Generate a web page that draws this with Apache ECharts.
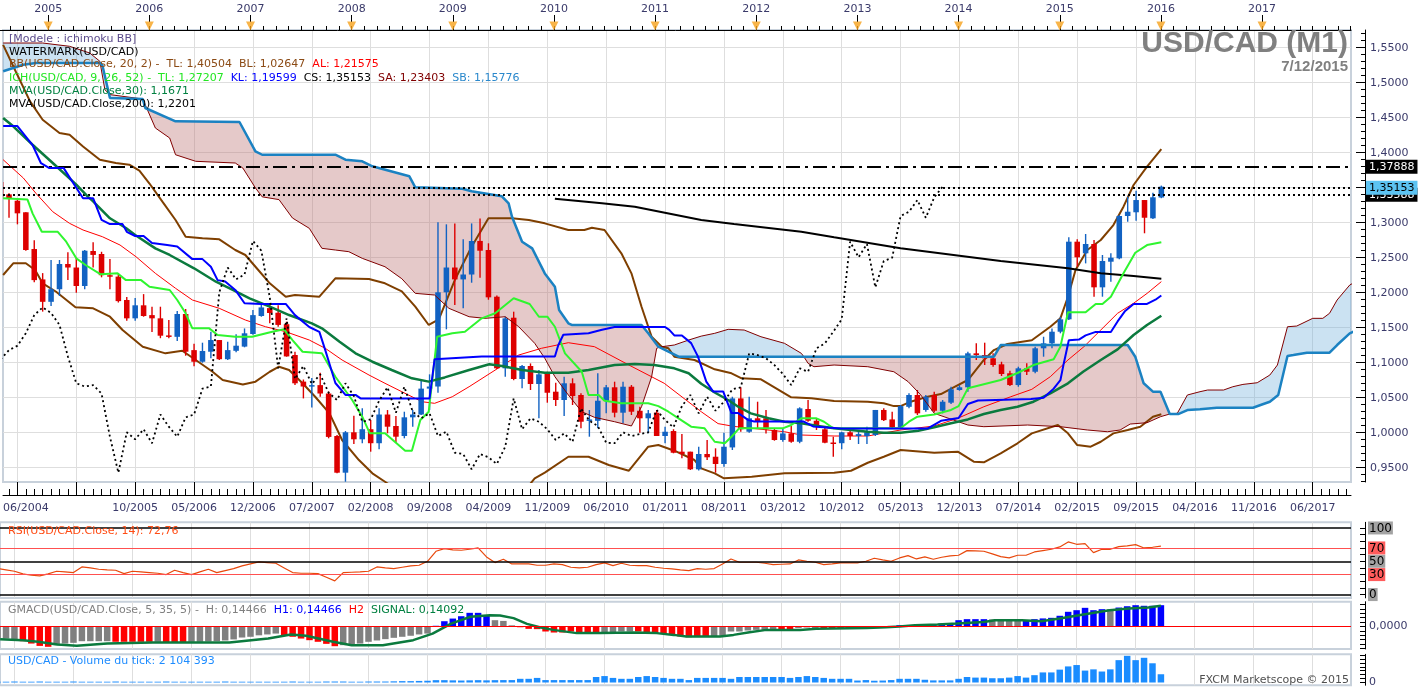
<!DOCTYPE html>
<html><head><meta charset="utf-8">
<script src="https://cdn.jsdelivr.net/npm/echarts@6/dist/echarts.min.js"></script>
<style>html,body{margin:0;padding:0;background:#fff}#c{width:1423px;height:688px}</style>
</head><body><div id="c"></div>
<script>
// ---------- DATA (month index 0 = 06/2004) ----------
const firstMonth = [2004, 6];
const yearLabels = ['2005','2006','2007','2008','2009','2010','2011','2012','2013','2014','2015','2016','2017'];
const yearMonthIdx = [6,18,30,42,54,66,78,90,102,114,126,138,150];
const priceTicks = [0.95,1.00,1.05,1.10,1.15,1.20,1.25,1.30,1.35,1.40,1.45,1.50,1.55];
const rsiTicks = [0,30,50,70,100];
const levelValues = [1.37888, 1.35153, 1.33588];

const candleOpen = [1.358,1.3405,1.3314,1.3149,1.2624,1.219,1.187,1.205,1.241,1.236,
1.2096,1.2596,1.2553,1.225,1.223,1.1896,1.1634,1.182,1.168,1.1634,
1.139,1.137,1.1696,1.118,1.1014,1.1157,1.1324,1.105,1.117,1.123,
1.141,1.1667,1.178,1.1714,1.155,1.111,1.073,1.066,1.068,1.056,
0.9953,0.9429,1.0006,0.9906,1.005,0.985,1.026,1.0096,0.9953,1.022,
1.026,1.063,1.066,1.2006,1.236,1.219,1.226,1.274,1.261,1.1943,
1.092,1.1643,1.0767,1.0953,1.0696,1.0849,1.0586,1.0467,1.0706,1.0539,
1.017,1.017,1.0457,1.0649,1.0286,1.0657,1.0314,1.0206,1.0286,0.9953,
1.0024,0.9729,0.9729,0.9477,0.9696,0.9657,0.9553,0.979,1.049,1.0014,
1.0206,1.0206,1.0039,0.9896,0.999,0.9871,1.0339,1.0171,1.0049,0.986,
0.985,1.0006,0.9953,0.9953,0.9967,1.0325,1.019,1.0077,1.037,1.0539,
1.0325,1.0539,1.0314,1.0429,1.061,1.0649,1.1134,1.111,1.1063,1.0977,
1.0849,1.0681,1.092,1.0871,1.1206,1.1277,1.1443,1.162,1.2729,1.2563,
1.2696,1.2077,1.2443,1.2491,1.3096,1.3149,1.3324,1.3063,1.336];
const candleClose = [1.336,1.335,1.3134,1.261,1.218,1.187,1.205,1.241,1.236,1.2096,
1.26,1.254,1.225,1.223,1.188,1.1634,1.182,1.1667,1.1634,1.1386,
1.137,1.1696,1.1157,1.1014,1.1167,1.1324,1.105,1.118,1.1243,1.142,
1.168,1.179,1.171,1.154,1.109,1.0706,1.066,1.068,1.056,0.994,
0.9429,1.0006,0.9906,1.005,0.985,1.026,1.0086,0.9943,1.022,1.026,
1.063,1.066,1.2006,1.236,1.219,1.226,1.2739,1.26,1.1934,1.092,
1.1634,1.0767,1.0953,1.0696,1.0834,1.0571,1.0467,1.0706,1.0524,1.0157,
1.019,1.0457,1.0649,1.0286,1.0657,1.03,1.0206,1.0277,0.9953,1.0014,
0.9714,0.9696,0.9477,0.9696,0.9649,0.9553,0.98,1.049,1.0049,1.0206,
1.0157,1.0049,0.9896,0.999,0.9871,1.0348,1.0171,1.0096,0.9857,0.985,
1.0006,0.9953,0.998,1.0006,1.0325,1.018,1.0077,1.038,1.0539,1.0277,
1.0514,1.0314,1.0443,1.062,1.0649,1.1134,1.111,1.1063,1.0967,1.0839,
1.0681,1.092,1.0871,1.1206,1.1277,1.1443,1.162,1.2729,1.2506,1.2696,
1.2077,1.2453,1.25,1.3096,1.3157,1.3324,1.3071,1.3363,1.3515];
const candleLow = [1.328,1.307,1.2977,1.26,1.215,1.173,1.181,1.1953,1.218,1.20,
1.205,1.236,1.222,1.205,1.186,1.16,1.16,1.1657,1.144,1.135,
1.135,1.131,1.11,1.095,1.10,1.1063,1.104,1.104,1.115,1.122,
1.14,1.1657,1.1563,1.1514,1.1086,1.068,1.049,1.036,1.0514,0.992,
0.942,0.93,0.9839,0.985,0.9729,0.9763,0.9991,0.9857,0.992,1.0086,
1.0253,1.0324,1.057,1.1477,1.1824,1.1777,1.2143,1.2214,1.19,1.091,
1.08,1.075,1.0634,1.061,1.0206,1.0429,1.038,1.0239,1.0396,1.0063,
0.9943,1.0063,1.0277,1.022,1.0134,1.0253,1.0,0.9991,0.9953,0.985,
0.9706,0.9634,0.9467,0.946,0.961,0.9429,0.9514,0.9753,1.0014,1.0,
1.0063,0.999,0.9886,0.9871,0.9857,0.985,1.0157,1.0039,0.985,0.9657,
0.9763,0.9896,0.9839,0.9839,0.9953,1.0167,1.0063,1.0063,1.0348,1.0253,
1.03,1.0291,1.0277,1.041,1.06,1.0586,1.1039,1.0967,1.0943,1.081,
1.0667,1.0657,1.0824,1.0849,1.1086,1.1206,1.142,1.161,1.2371,1.2419,
1.1943,1.1943,1.2157,1.2477,1.3014,1.3029,1.2849,1.3053,1.335];
const candleHigh = [1.366,1.342,1.334,1.3149,1.275,1.228,1.2467,1.2467,1.2577,1.25,
1.261,1.272,1.2585,1.248,1.227,1.194,1.1924,1.198,1.18,1.18,
1.161,1.174,1.1767,1.127,1.1286,1.1443,1.1324,1.13,1.1406,1.149,
1.1753,1.184,1.1824,1.182,1.1586,1.1157,1.076,1.078,1.0857,1.0586,
0.9967,1.0024,1.0243,1.0348,1.0182,1.0348,1.0324,1.0239,1.03,1.0324,
1.0753,1.0834,1.3006,1.2977,1.299,1.2763,1.299,1.306,1.2706,1.196,
1.1657,1.1729,1.0967,1.099,1.0896,1.0871,1.0714,1.08,1.0777,1.0563,
1.0324,1.0849,1.0681,1.0729,1.0729,1.0681,1.0371,1.0324,1.0324,1.0086,
1.005,0.998,0.9729,0.98,0.9896,0.9777,1.0,1.0514,1.0649,1.0514,
1.0443,1.0324,1.0063,1.0063,1.0096,1.0363,1.0467,1.0206,1.0086,0.9943,
1.0014,1.0039,1.0014,1.0086,1.0325,1.0348,1.03,1.0396,1.0563,1.061,
1.0539,1.0586,1.0467,1.0657,1.0681,1.1157,1.1277,1.1286,1.1134,1.1014,
1.0886,1.0943,1.0991,1.1229,1.1371,1.149,1.1657,1.2791,1.2763,1.2839,
1.2753,1.2539,1.2563,1.311,1.3371,1.3457,1.3324,1.3429,1.353];

// Chikou span, index = month
const chikou = [1.105,1.118,1.1243,1.142,1.168,1.179,1.171,1.154,1.109,1.0706,
1.066,1.068,1.056,0.994,0.9429,1.0006,0.9906,1.005,0.985,1.026,
1.0086,0.9943,1.022,1.026,1.063,1.066,1.2006,1.236,1.219,1.226,
1.2739,1.26,1.1934,1.092,1.1634,1.0767,1.0953,1.0696,1.0834,1.0571,
1.0467,1.0706,1.0524,1.0157,1.019,1.0457,1.0649,1.0286,1.0657,1.03,
1.0206,1.0277,0.9953,1.0014,0.9714,0.9696,0.9477,0.9696,0.9649,0.9553,
0.98,1.049,1.0049,1.0206,1.0157,1.0049,0.9896,0.999,0.9871,1.0348,
1.0171,1.0096,0.9857,0.985,1.0006,0.9953,0.998,1.0006,1.0325,1.018,
1.0077,1.038,1.0539,1.0277,1.0514,1.0314,1.0443,1.062,1.0649,1.1134,
1.111,1.1063,1.0967,1.0839,1.0681,1.092,1.0871,1.1206,1.1277,1.1443,
1.162,1.2729,1.2506,1.2696,1.2077,1.2453,1.25,1.3096,1.3157,1.3324,
1.3071,1.3363,1.3515];

// Indicator lines: [month index, value]
const bbUpper = [[0.3,1.554],[1.8,1.516],[3.5,1.4734],[5,1.4471],[7,1.4281],[8.2,1.4257],[9.8,1.409],[11.8,1.39],[13.7,1.3853],[15.3,1.3829],[16.5,1.3743],[17.7,1.356],[19.3,1.329],[20.8,1.3039],[22,1.28],[24,1.2777],[26,1.2763],[27.9,1.261],[29.1,1.2539],[30.3,1.2371],[32,1.2134],[33.9,1.1943],[35,1.1967],[37.9,1.1943],[39.8,1.2206],[43.8,1.2196],[45.7,1.2134],[47.7,1.202],[49.3,1.18],[50.9,1.1539],[52.1,1.162],[54,1.2181],[56,1.2657],[58,1.3063],[60.8,1.3063],[62.8,1.3039],[64.7,1.2991],[67.5,1.2896],[69.4,1.2896],[70.3,1.2929],[71.8,1.2896],[73.8,1.2563],[75,1.2277],[76.2,1.18],[77.4,1.1371],[78.6,1.1229],[79.4,1.1206],[80.1,1.1086],[82.5,1.1039],[84.9,1.0906],[86.9,1.0849],[88.1,1.0777],[90.4,1.0763],[92,1.0649],[94,1.0506],[96.4,1.0491],[99.1,1.0453],[103.1,1.0443],[105,1.042],[106.2,1.038],[107,1.038],[108.2,1.0443],[110.2,1.0514],[111.8,1.0553],[113.3,1.0649],[115,1.0753],[116.9,1.1039],[118.1,1.1181],[119.7,1.1267],[122.6,1.132],[124.8,1.1514],[126,1.1634],[126.9,1.1943],[127.8,1.2324],[129.2,1.261],[130.8,1.2753],[132.3,1.2967],[133.5,1.3229],[134.7,1.3539],[136.3,1.38],[138,1.405]];
const bbLower = [[0.3,1.2253],[1.5,1.242],[3,1.242],[4.1,1.2324],[5,1.2134],[6.6,1.2014],[8.9,1.1791],[11,1.1777],[13,1.1657],[14.5,1.1467],[16.9,1.1229],[19.6,1.1134],[21.6,1.1171],[23.2,1.1039],[25.2,1.0871],[26.4,1.0753],[28.8,1.069],[30.3,1.0729],[32,1.0871],[33.1,1.0943],[34.3,1.0896],[35.9,1.0706],[37.4,1.0514],[39.1,1.0277],[40.6,0.9896],[42.6,0.961],[44.2,0.942],[45.7,0.93],[47.5,0.915],[50,0.895],[53,0.86],[56,0.84],[59,0.86],[61.5,0.905],[63.5,0.9349],[64.7,0.9429],[67.5,0.9657],[69.9,0.9657],[72.3,0.9539],[74.7,0.9457],[77,0.98],[78.2,0.9824],[80.1,0.9743],[82.5,0.961],[83.3,0.9491],[84.9,0.942],[86,0.9349],[89.3,0.9371],[93.2,0.942],[99.1,0.9429],[101.1,0.9457],[103.1,0.9571],[105,0.9657],[107,0.9753],[111,0.9714],[113.8,0.9729],[115.7,0.9586],[116.9,0.9577],[118.9,0.9706],[120.9,0.9849],[122.6,0.999],[125.7,1.011],[126.9,0.9991],[128,0.9824],[129.6,0.98],[130.8,0.9871],[132.3,0.9991],[134,1.0039],[135.5,1.0086],[137,1.0229],[138,1.0265]];
const bbMid = [[0.3,1.39],[2.7,1.3639],[4.2,1.342],[6.2,1.3157],[8.2,1.2991],[9.8,1.2896],[12.1,1.28],[14.2,1.2681],[16.1,1.2514],[18.4,1.2277],[20.8,1.2063],[22.8,1.1896],[26,1.1777],[29.1,1.161],[31.5,1.1514],[33.9,1.1443],[36.7,1.1324],[38.6,1.1206],[40.6,1.1039],[43.8,1.0824],[45.7,1.0706],[47.7,1.0586],[50.1,1.0443],[51.6,1.042],[53.7,1.0514],[55.7,1.0657],[61.6,1.111],[64.3,1.1206],[67.5,1.1286],[70.6,1.1229],[74.7,1.0967],[78.9,1.0706],[83.3,1.03],[85.3,1.013],[87.2,1.009],[93.2,1.0014],[95.2,0.9967],[99.1,0.9953],[103.1,0.9953],[107,1.0039],[111,1.0096],[113.8,1.0206],[116.9,1.0371],[120.1,1.0514],[122.6,1.062],[124.8,1.08],[126.9,1.1039],[128.8,1.1229],[130.8,1.1467],[132.8,1.1706],[134.7,1.1849],[136.3,1.199],[138,1.2158]];
const tenkan = [[0.3,1.335],[3.2,1.333],[3.8,1.3134],[4.9,1.287],[6.8,1.287],[7.8,1.2729],[9,1.2491],[10.1,1.2396],[11.9,1.2263],[13.9,1.2277],[14.9,1.218],[16.7,1.218],[17.7,1.2086],[20.1,1.2039],[21,1.1896],[22,1.1706],[22.8,1.1491],[24.8,1.1491],[25.8,1.1396],[27.9,1.1371],[29.9,1.1371],[32.3,1.1443],[33.7,1.1477],[34.7,1.1324],[35.9,1.1157],[38.2,1.1134],[39.8,1.08],[41.8,1.0467],[43,1.0229],[43.9,0.9991],[45.7,0.9991],[48.1,0.9743],[48.9,0.9743],[49.9,1.0181],[50.9,1.03],[51.9,1.1371],[53.7,1.142],[55.2,1.1443],[57.2,1.1634],[58.8,1.1706],[61,1.192],[62.9,1.1839],[64,1.1657],[65,1.1657],[65.9,1.1514],[67.1,1.1134],[69.1,1.0871],[69.9,1.0539],[71.1,1.0539],[71.8,1.0457],[73.8,1.042],[77,1.042],[78.2,1.038],[79.4,1.03],[80.6,1.0206],[82.1,1.0086],[83.7,1.0063],[84.9,0.9871],[86.1,0.9849],[86.9,0.9943],[87.8,1.0063],[93,1.0063],[94,1.011],[95.2,1.0206],[97,1.0206],[97.9,1.0157],[99,1.0063],[107,1.0063],[108,1.0157],[109,1.0229],[111,1.026],[113,1.0325],[113.9,1.038],[115,1.0634],[118.9,1.0753],[120.9,1.0853],[122.8,1.0967],[125.2,1.1049],[126,1.1229],[126.9,1.172],[129,1.172],[130.2,1.184],[131,1.184],[132,1.1943],[133.5,1.2277],[134.9,1.2571],[136.3,1.2681],[138,1.2721]];
const kijun = [[0.3,1.438],[2,1.438],[3.8,1.411],[4.8,1.385],[5.8,1.378],[7.5,1.378],[9.8,1.335],[11,1.335],[12,1.304],[13,1.298],[14.5,1.298],[15,1.287],[16,1.281],[17,1.281],[18,1.271],[19.8,1.268],[21,1.266],[22.8,1.248],[24,1.248],[25,1.237],[25.8,1.218],[26.7,1.216],[27.9,1.204],[29,1.185],[31,1.184],[33.9,1.184],[35,1.168],[36.7,1.151],[37.9,1.144],[38.6,1.118],[39.8,1.071],[41,1.054],[42.2,1.054],[42.8,1.049],[51,1.049],[51.6,1.105],[57.2,1.109],[65.9,1.109],[66.3,1.125],[66.9,1.14],[69.9,1.142],[71.5,1.147],[73,1.151],[79,1.151],[79.5,1.147],[80.1,1.139],[81,1.139],[82.1,1.128],[82.9,1.109],[83.9,1.073],[84.7,1.059],[85.9,1.059],[86.9,1.028],[87.7,1.028],[88.9,1.018],[89.6,1.016],[95.5,1.016],[96.6,1.009],[99.9,1.006],[110.2,1.006],[111.8,1.017],[113.9,1.021],[115,1.041],[116.2,1.046],[122.5,1.048],[124,1.05],[125.2,1.063],[126,1.075],[126.4,1.099],[127,1.132],[128.2,1.133],[129,1.139],[130.2,1.144],[132,1.144],[132.8,1.159],[133.7,1.174],[134.7,1.184],[136.3,1.184],[137.3,1.19],[138,1.196]];
const senkouA = [[0.3,1.5567],[5,1.5567],[8.2,1.552],[10.6,1.5424],[11.8,1.5306],[12.4,1.49],[13,1.483],[16.9,1.4767],[18.4,1.4353],[20.1,1.421],[20.8,1.3971],[23.2,1.3877],[27.9,1.3853],[28.8,1.3781],[30.3,1.3496],[31.1,1.337],[33.1,1.333],[34.7,1.3067],[36.7,1.292],[38.2,1.2634],[39.8,1.261],[41.4,1.2586],[43,1.2491],[45.7,1.2371],[47.7,1.22],[49.3,1.1991],[51.6,1.1967],[53.3,1.1777],[55.7,1.1657],[57.6,1.1634],[60,1.1657],[61.6,1.1514],[63.5,1.1277],[64.7,1.1063],[65.9,1.08],[67.5,1.0539],[69.1,1.03],[70.6,1.022],[73,1.0157],[75,1.0096],[76.2,1.0371],[77.4,1.08],[78,1.1206],[78.4,1.1225],[80.1,1.1253],[81.8,1.1324],[83.3,1.138],[84.9,1.142],[86.5,1.1477],[88.4,1.1467],[90.4,1.1371],[93.2,1.1277],[95.2,1.1134],[95.5,1.1086],[96,1.0991],[96.7,1.0943],[99.1,1.0967],[103.1,1.0943],[106.2,1.0871],[107.9,1.0729],[109.4,1.0539],[111,1.0277],[113.3,1.0181],[115,1.011],[116.9,1.0086],[122.1,1.011],[126,1.0086],[129.2,1.0039],[131.6,1.0014],[133.1,1.0039],[134.3,1.0124],[136.3,1.0143],[137.9,1.0229],[139,1.0267],[139.9,1.0277],[141.1,1.0539],[142.6,1.0586],[143.5,1.061],[145.4,1.061],[146.5,1.0657],[147.7,1.069],[149.4,1.0714],[150.9,1.0824],[151.8,1.0967],[153,1.1514],[154.1,1.1524],[156,1.1634],[157.2,1.1634],[158,1.1706],[158.9,1.1896],[160.4,1.211],[161,1.215]];
const senkouB = [[0.3,1.5163],[2.7,1.5257],[4.2,1.5281],[11.8,1.5281],[12.1,1.525],[13,1.4781],[16.9,1.4767],[17.2,1.4639],[20.8,1.4449],[28.4,1.4439],[30.3,1.402],[31.1,1.3971],[39.8,1.3971],[41,1.39],[43,1.3877],[44.2,1.3806],[48.6,1.3663],[49.3,1.3506],[54.9,1.3486],[56,1.3449],[59.6,1.3377],[60.4,1.3277],[60.8,1.3086],[62,1.2729],[63.2,1.2634],[64.7,1.2276],[65.9,1.2086],[66.4,1.1753],[67.5,1.1563],[67.9,1.1539],[76.2,1.1539],[77,1.142],[78.2,1.1229],[78.4,1.1215],[80.6,1.1086],[95.5,1.1086],[118.1,1.1086],[118.9,1.1253],[134,1.1253],[134.9,1.1086],[135.9,1.0706],[137,1.0586],[137.9,1.0586],[139,1.0267],[140,1.0267],[141.1,1.0324],[142.6,1.0334],[144.6,1.0357],[148.9,1.0357],[149.8,1.0396],[150.9,1.0443],[151.9,1.0539],[153,1.1096],[153.7,1.111],[155.3,1.1143],[158,1.1143],[158.9,1.1253],[160.4,1.142],[161,1.145]];
// cloud segments between crossings: [from, to, senkouA above?]
const cloudSegments = [[0.3,16.9,1],[16.9,78.4,0],[78.4,95.5,1],[95.5,139,0],[139,161,1]];
const mva30 = [[0.3,1.4496],[1.5,1.4377],[3.8,1.4114],[6.2,1.3853],[9,1.3543],[10.4,1.337],[11,1.3306],[13,1.3063],[14.9,1.2924],[16,1.2824],[18.4,1.2634],[20.1,1.2539],[23,1.2349],[25.6,1.2157],[27.6,1.2039],[29.6,1.192],[32,1.18],[34.3,1.1681],[37,1.1563],[38.2,1.1491],[40.3,1.13],[42.2,1.1134],[44.2,1.1014],[46.5,1.0896],[48.9,1.0777],[50.9,1.073],[52.8,1.079],[55.7,1.0896],[58.1,1.0977],[59.6,1.0953],[62,1.0896],[64.7,1.0857],[67.5,1.0857],[69.9,1.0896],[73,1.0967],[75.4,1.0981],[77.7,1.0967],[80.1,1.092],[81.8,1.0849],[83.3,1.07],[84.9,1.0575],[86.5,1.0467],[87.7,1.0371],[89.2,1.0277],[91.3,1.0206],[93.2,1.0157],[95.2,1.0134],[97.2,1.0096],[99.1,1.0063],[101.1,1.0039],[103.1,1.0014],[105,1.0],[107,1.0],[109.1,1.0029],[111,1.0077],[113,1.0134],[115,1.019],[116.9,1.0267],[118.9,1.0324],[120.9,1.0371],[122.8,1.0443],[124.8,1.0563],[126.9,1.0706],[128.7,1.0871],[130.8,1.1039],[132.8,1.1191],[134.7,1.1396],[136.3,1.1539],[138,1.1671]];
const mva200 = [[65.9,1.3343],[71.5,1.3277],[75.4,1.3229],[83.3,1.3039],[87.2,1.2981],[95.2,1.2871],[99.1,1.2791],[107,1.2634],[118.9,1.2453],[126.9,1.2349],[130.8,1.2277],[134.7,1.2239],[138,1.2201]];

const rsi = [39,37,35,31,29,28,31,35,34,33,
41.5,40,38,37,36.5,31.5,35,34,33,32,
30,36.5,33,30,34,38,33,36,39,43,
46,49,48,47,40,33,32,32,31.5,26,
20.5,33,33.5,34,35,41.5,40,39,41,43,
44,50,65,69,67,66.5,68,70,56.5,48,
53,46,46,46,44,44,46,45,41,40,
41,45,47.5,43.5,47,44,43.5,43.5,41,39.5,
38.5,37,36,39,38,39,46,53.5,48.5,48.5,
48.5,47,45,45.5,46,52,50,48.5,45,46,
47.5,47.5,47.5,50,54.5,52,50,55,58.5,53.5,
56.5,53,56,58,59,66,65.5,65,61,57,
55,59,59,64,66,68,71.5,79,75.5,76.5,
63,68,68,72,73,75,70,71,72.76];

const macdHist = [-0.08,-0.082,-0.086,-0.1,-0.116,-0.132,-0.138,-0.127,-0.116,-0.111,
-0.1,-0.1,-0.1,-0.1,-0.104,-0.104,-0.104,-0.104,-0.104,-0.104,
-0.109,-0.109,-0.109,-0.104,-0.104,-0.102,-0.1,-0.095,-0.088,-0.075,
-0.07,-0.06,-0.054,-0.048,-0.063,-0.07,-0.082,-0.093,-0.104,-0.118,
-0.134,-0.127,-0.122,-0.116,-0.104,-0.095,-0.086,-0.077,-0.07,-0.063,
-0.054,-0.048,0.005,0.036,0.054,0.07,0.093,0.093,0.077,0.043,
0.038,0.008,-0.005,-0.016,-0.018,-0.034,-0.041,-0.041,-0.034,-0.05,
-0.045,-0.045,-0.041,-0.041,-0.034,-0.034,-0.034,-0.041,-0.045,-0.05,
-0.057,-0.068,-0.073,-0.068,-0.068,-0.068,-0.063,-0.034,-0.034,-0.027,
-0.023,-0.023,-0.018,-0.018,-0.018,-0.011,-0.007,-0.011,-0.01,-0.01,
-0.01,-0.01,-0.007,-0.005,-0.003,0.002,0.004,0.009,0.009,0.009,
0.014,0.014,0.02,0.02,0.043,0.05,0.05,0.05,0.048,0.048,
0.048,0.048,0.043,0.05,0.055,0.059,0.073,0.1,0.111,0.127,
0.111,0.118,0.118,0.129,0.138,0.145,0.141,0.141,0.145];
const macdColorCodes = ['ggg','rrrr','ggggggg','rrrrr','g','rrr','ggggggggggg','rrrrrrr','ggggggggggg','bbbbbbb','ggg','rrrrrrrrrr','gggg','rrrrrrrrr','gggggggg','rr','ggg','rrrr','ggggg','bbbbbbbbbbb','gggg','bbbbbbbbbb','g','bbbbbb'].join('').split('');
const macdSignal = [[0.3,-0.086],[3,-0.093],[4.8,-0.104],[7.1,-0.122],[9.4,-0.131],[13,-0.116],[18.4,-0.109],[27.5,-0.109],[32.1,-0.082],[34.8,-0.054],[36.6,-0.063],[39.8,-0.104],[42,-0.127],[45.7,-0.127],[49.3,-0.093],[51.6,-0.048],[53.8,0.02],[56.1,0.066],[58.4,0.077],[59.6,0.075],[61.2,0.057],[62.8,0.018],[64.3,-0.005],[65.9,-0.023],[68.7,-0.045],[71.5,-0.045],[75.4,-0.041],[78.2,-0.045],[80.2,-0.057],[81.7,-0.068],[85.7,-0.068],[87.3,-0.057],[89.2,-0.039],[91.2,-0.023],[95.2,-0.023],[97.1,-0.016],[103.1,-0.011],[105.4,-0.005],[107,0],[108.8,0.009],[111.5,0.014],[113.8,0.02],[117,0.03],[118.3,0.043],[121.5,0.043],[123.8,0.036],[126,0.054],[128.8,0.082],[131.9,0.111],[134.2,0.122],[136.5,0.129],[138,0.141]];

const volume = [0.2,0.2,0.25,0.2,0.2,0.25,0.2,0.2,0.2,0.25,
0.2,0.2,0.2,0.2,0.25,0.2,0.2,0.2,0.2,0.2,
0.25,0.2,0.2,0.2,0.2,0.2,0.2,0.25,0.2,0.2,
0.2,0.2,0.2,0.2,0.2,0.25,0.2,0.2,0.2,0.25,
0.25,0.25,0.2,0.2,0.25,0.25,0.25,0.3,
0.35,0.35,0.4,0.45,0.6,0.6,0.55,0.5,0.55,0.6,0.55,0.6,
0.62,0.62,0.94,0.94,1.17,0.62,0.62,0.62,0.62,0.62,
0.62,1.4,1.64,1.17,0.94,0.94,1.4,1.64,1.4,1.17,
0.94,0.94,0.62,1.17,1.17,1.17,1.17,0.94,1.4,1.4,
1.4,1.4,1.4,1.4,1.17,1.4,1.64,1.4,1.17,0.94,
0.94,0.94,0.5,0.62,0.45,0.5,0.62,0.94,0.94,0.94,
0.7,0.54,0.54,0.54,0.94,1.4,1.25,1.25,1.09,1.09,
1.25,1.64,1.25,1.87,2.57,2.57,3.28,4.1,4.45,3.04,
3.35,2.8,3.35,5.7,6.8,5.7,6.3,4.9,2.104393];

// ---------- CHART ----------
const FONT = 'DejaVu Sans';
const AX = '#3a3a6a';
const X_MIN = 0.285, X_MAX = 160.55;
const gridMonths = []; for (let k = 2; k < X_MAX; k += 7) gridMonths.push(k);
const labelMonths = [X_MIN].concat(gridMonths.filter(k => k >= 16));
const monthTicks = []; for (let k = 1; k < X_MAX; k++) monthTicks.push(k);
const topTicks = []; for (let k = 1.5; k < X_MAX; k += 1.5) topTicks.push(k);
const priceMinor = []; for (let k = 93; k <= 157; k++) priceMinor.push(k / 100);

function monthLabel(v) {
  const m = firstMonth[1] - 1 + Math.round(v);
  const y = firstMonth[0] + Math.floor(m / 12);
  const mm = m % 12 + 1;
  return (mm < 10 ? '0' : '') + mm + '/' + y;
}
const comma = (v, d) => v.toFixed(d).replace('.', ',');

function xAx(grid, extra) {
  return Object.assign({type: 'value', gridIndex: grid, min: X_MIN, max: X_MAX,
    axisLine: {show: false}, axisTick: {show: false}, axisLabel: {show: false}, splitLine: {show: false}}, extra);
}
const gridSplit = {show: true, lineStyle: {color: '#dedede', width: 1}};
const frame = {show: true, borderColor: '#c8d1db', borderWidth: 2, backgroundColor: '#fff'};

const rs = (c, extra) => Object.assign({color: c, fontFamily: FONT, fontSize: 11, fontWeight: 'normal', lineHeight: 13}, extra || {});
const rich = {pu: rs('#5c4c8c'), bk: rs('#000'), br: rs('#8b4a14'), rd: rs('#ff0000'), gr: rs('#22e622'),
  bl: rs('#0000ff'), dr: rs('#800000'), sb: rs('#2a88cc'), dg: rs('#008040'), gy: rs('#808080'),
  or: rs('#ff4c14'), vb: rs('#1e8cff'), fx: rs('#505050')};
const T = (text, left, top) => ({text, left, top, padding: 0,
  textStyle: {rich, fontFamily: FONT, fontSize: 11, fontWeight: 'normal', lineHeight: 13}});

function line(data, color, width, type, z) {
  return {type: 'line', xAxisIndex: 2, yAxisIndex: 1, data, symbol: 'none', silent: true, z: z || 3,
    lineStyle: {color, width, type: type || 'solid'}, clip: true};
}

const upColor = '#1262c2', downColor = '#dd0000';
const macdColors = {r: '#ff0000', g: '#808080', b: '#0000ff'};

const levelStyles = [
  {type: [14, 5, 3, 5], bg: '#000', fg: '#fff'},
  {type: [2, 3], bg: '#5cc3f2', fg: '#000'},
  {type: [2, 3], bg: '#000', fg: '#fff'}
];
const levelLines = levelValues.map((v, k) => ({
  yAxis: v,
  lineStyle: {color: '#000', width: 2, type: levelStyles[k].type},
  label: {show: true, position: 'end', distance: 15, formatter: comma(v, 5), backgroundColor: levelStyles[k].bg,
    color: levelStyles[k].fg, fontFamily: FONT, fontSize: 11, fontWeight: 'normal', padding: [2, 3, 1, 3]}
}));
// draw the blue label on top
levelLines.push(levelLines.splice(1, 1)[0]);

const option = {
  animation: false,
  backgroundColor: '#fff',
  textStyle: {fontFamily: FONT},
  title: [
    T('{pu|[Modele : ichimoku BB]}', 9, 33),
    T('{bk|WATERMARK(USD/CAD)}', 9, 45.5),
    T('{br|BB(USD/CAD.Close, 20, 2) -  TL: 1,40504  BL: 1,02647  }{rd|AL: 1,21575}', 9, 58),
    T('{gr|ICH(USD/CAD, 9, 26, 52) -  TL: 1,27207  }{bl|KL: 1,19599  }{bk|CS: 1,35153  }{dr|SA: 1,23403  }{sb|SB: 1,15776}', 9, 71.5),
    T('{dg|MVA(USD/CAD.Close,30): 1,1671}', 9, 85),
    T('{bk|MVA(USD/CAD.Close,200): 1,2201}', 9, 98),
    T('{or|RSI(USD/CAD.Close, 14): 72,76}', 8, 524.5),
    T('{gy|GMACD(USD/CAD.Close, 5, 35, 5) -  H: 0,14466  }{bl|H1: 0,14466  }{rd|H2  }{dg|SIGNAL: 0,14092}', 8, 603.5),
    T('{vb|USD/CAD - Volume du tick: 2 104 393}', 8, 655),
    {text: 'FXCM Marketscope © 2015', right: 74, top: 673.5, padding: 0,
      textStyle: {fontFamily: FONT, fontSize: 11, color: '#505050', fontWeight: 'normal', lineHeight: 13}},
    {text: 'USD/CAD (M1)', right: 75, top: 26, padding: 0,
      textStyle: {fontFamily: 'Liberation Sans', fontWeight: 'bold', fontSize: 30, color: '#808080', lineHeight: 36}},
    {text: '7/12/2015', right: 75, top: 58, padding: 0,
      textStyle: {fontFamily: 'Liberation Sans', fontWeight: 'bold', fontSize: 15, color: '#808080', lineHeight: 18}}
  ],
  grid: [
    {left: 0, top: 22, width: 1351, height: 8, show: false},
    Object.assign({left: 0, top: 30, width: 1351, height: 452}, frame),
    Object.assign({left: 0, top: 522.3, width: 1351, height: 75.6}, frame),
    Object.assign({left: 0, top: 601.7, width: 1351, height: 47.3}, frame),
    Object.assign({left: 0, top: 654.3, width: 1351, height: 33.7}, frame)
  ],
  xAxis: [
    xAx(0, {position: 'top', axisLine: {show: true, lineStyle: {color: '#000', width: 1}},
      axisTick: {show: true, customValues: topTicks, length: 4, lineStyle: {color: '#000'}}}),
    xAx(0, {position: 'top', axisTick: {show: true, customValues: yearMonthIdx, length: 7, lineStyle: {color: '#000'}},
      axisLabel: {show: true, customValues: yearMonthIdx, margin: 7, color: AX, fontFamily: FONT, fontSize: 11,
        formatter: v => yearLabels[yearMonthIdx.indexOf(Math.round(v))]}}),
    xAx(1, {position: 'bottom', offset: 13, axisLine: {show: true, lineStyle: {color: '#000', width: 1}},
      axisTick: {show: true, inside: true, customValues: gridMonths, length: 13, lineStyle: {color: '#000'}},
      axisLabel: {show: true, customValues: labelMonths, margin: 8, color: AX, fontFamily: FONT, fontSize: 11,
        alignMinLabel: 'left', formatter: v => monthLabel(v)},
      splitLine: gridSplit}),
    xAx(1, {position: 'bottom', offset: 13,
      axisTick: {show: true, inside: true, customValues: monthTicks, length: 6, lineStyle: {color: '#000'}}}),
    xAx(2, {axisTick: {show: false, customValues: gridMonths}, splitLine: gridSplit}),
    xAx(3, {axisTick: {show: false, customValues: gridMonths}, splitLine: gridSplit}),
    xAx(4, {axisTick: {show: false, customValues: gridMonths}, splitLine: gridSplit})
  ],
  yAxis: [
    {type: 'value', gridIndex: 0, min: 0, max: 1, show: false},
    {type: 'value', gridIndex: 1, position: 'right', offset: 14, min: 0.9296, max: 1.5753,
      axisLine: {show: true, lineStyle: {color: '#000'}},
      axisTick: {show: true, inside: true, customValues: priceTicks, length: 9, lineStyle: {color: '#000'}},
      axisLabel: {show: true, customValues: priceTicks, margin: 5, color: AX, fontFamily: FONT, fontSize: 11,
        formatter: v => comma(v, 4)},
      splitLine: gridSplit},
    {type: 'value', gridIndex: 1, position: 'right', offset: 14, min: 0.9296, max: 1.5753,
      axisLine: {show: false}, axisLabel: {show: false}, splitLine: {show: false},
      axisTick: {show: true, inside: true, customValues: priceMinor, length: 4, lineStyle: {color: '#000'}}},
    {type: 'value', gridIndex: 2, position: 'right', offset: 14, min: -5, max: 108.5,
      axisLine: {show: true, lineStyle: {color: '#000'}},
      axisTick: {show: true, inside: true, customValues: [0,10,20,30,40,50,60,70,80,90,100], length: 5, lineStyle: {color: '#000'}},
      axisLabel: {show: true, customValues: rsiTicks, margin: 3,
        formatter: v => (v === 70 || v === 30) ? '{r|' + v + '}' : '{g|' + v + '}',
        rich: {r: {backgroundColor: '#ff5c5c', color: '#000', fontFamily: FONT, fontSize: 12, padding: [1, 1, 0, 1]},
               g: {backgroundColor: '#a3a3a3', color: '#000', fontFamily: FONT, fontSize: 12, padding: [1, 1, 0, 1]}}},
      splitLine: {show: false}},
    {type: 'value', gridIndex: 3, position: 'right', offset: 14, min: -0.153, max: 0.1687,
      axisLine: {show: true, lineStyle: {color: '#000'}},
      axisTick: {show: true, inside: true, customValues: [-0.15,-0.12,-0.09,-0.06,-0.03,0,0.03,0.06,0.09,0.12,0.15], length: 5, lineStyle: {color: '#000'}},
      axisLabel: {show: true, customValues: [0], margin: 4, color: AX, fontFamily: FONT, fontSize: 11, formatter: v => comma(v, 4)},
      splitLine: {show: false}},
    {type: 'value', gridIndex: 4, position: 'right', offset: 14, min: -0.7, max: 7.19,
      axisLine: {show: true, lineStyle: {color: '#000'}},
      axisTick: {show: true, inside: true, customValues: [0,1,2,3,4,5,6,7], length: 5, lineStyle: {color: '#000'}},
      axisLabel: {show: true, customValues: [0], margin: 4, color: AX, fontFamily: FONT, fontSize: 11, formatter: () => '0'},
      splitLine: {show: false}}
  ],
  series: [
    {type: 'scatter', xAxisIndex: 1, yAxisIndex: 0, data: yearMonthIdx.map(p => [p, 0.5]), symbol: 'triangle',
      symbolRotate: 180, symbolSize: [9, 9], itemStyle: {color: '#f6a11c'}, silent: true, clip: false},
    {type: 'custom', xAxisIndex: 2, yAxisIndex: 1, clip: true, silent: true, z: 1, data: cloudSegments,
      renderItem: function (params, api) {
        const a = api.value(0), b = api.value(1), up = api.value(2);
        const inSeg = p => p[0] >= a - 1e-6 && p[0] <= b + 1e-6;
        const top = senkouA.filter(inSeg).map(p => api.coord(p));
        const bot = senkouB.filter(inSeg).map(p => api.coord(p)).reverse();
        return {type: 'polygon', shape: {points: top.concat(bot)},
          style: {fill: up ? 'rgba(110,175,220,0.36)' : 'rgba(190,120,120,0.4)', stroke: null}};
      }},
    line(bbUpper, '#7f3f00', 2, null, 2),
    line(bbLower, '#7f3f00', 2, null, 2),
    line(bbMid, '#ff0000', 1, null, 2),
    {type: 'custom', xAxisIndex: 2, yAxisIndex: 1, clip: true, silent: true, z: 3,
      data: candleOpen.map((o, i) => [i, o, candleClose[i], candleLow[i], candleHigh[i]]),
      encode: {x: 0, y: [1, 2, 3, 4]},
      renderItem: function (params, api) {
        const x = api.value(0), o = api.value(1), c = api.value(2), l = api.value(3), h = api.value(4);
        const pO = api.coord([x, o]), pC = api.coord([x, c]), pL = api.coord([x, l]), pH = api.coord([x, h]);
        const bw = api.size([1, 0])[0] * 0.66;
        const col = c >= o ? upColor : downColor;
        const yTop = Math.min(pO[1], pC[1]);
        const hh = Math.max(1.5, Math.abs(pO[1] - pC[1]));
        return {type: 'group', children: [
          {type: 'line', shape: {x1: pH[0], y1: pH[1], x2: pL[0], y2: pL[1]}, style: {stroke: col, lineWidth: 1.4}},
          {type: 'rect', shape: {x: pO[0] - bw / 2, y: yTop, width: bw, height: hh}, style: {fill: col}}
        ]};
      }},
    line(senkouA, '#800000', 1, null, 4),
    line(senkouB, '#1b82c2', 2.5, null, 4),
    line(mva30, '#0b7a3e', 2.5, null, 5),
    Object.assign(line(mva200, '#000000', 2, null, 5), {markLine: {silent: true, symbol: 'none', animation: false, data: levelLines}}),
    line(tenkan, '#2ff52f', 2, null, 6),
    line(kijun, '#0000ff', 2, null, 6),
    line(chikou.map((v, i) => [i, v]), '#000000', 1.8, [2, 3], 6),
    {type: 'line', xAxisIndex: 4, yAxisIndex: 3, data: rsi.map((v, i) => [i, v]), symbol: 'none', silent: true,
      lineStyle: {color: '#e8480c', width: 1.2}, z: 4,
      markLine: {silent: true, symbol: 'none', animation: false, label: {show: false}, data: [
        {yAxis: 100, lineStyle: {color: '#000', width: 1.5, type: 'solid'}},
        {yAxis: 70, lineStyle: {color: '#ff5050', width: 1.2, type: 'solid'}},
        {yAxis: 50, lineStyle: {color: '#000', width: 1.5, type: 'solid'}},
        {yAxis: 30, lineStyle: {color: '#ff5050', width: 1.2, type: 'solid'}},
        {yAxis: 0, lineStyle: {color: '#000', width: 1.5, type: 'solid'}}
      ]}},
    {type: 'bar', xAxisIndex: 5, yAxisIndex: 4, barWidth: 6.5, silent: true, z: 2,
      data: macdHist.map((v, i) => ({value: [i, v], itemStyle: {color: macdColors[macdColorCodes[i]]}})),
      markLine: {silent: true, symbol: 'none', animation: false, label: {show: false},
        data: [{yAxis: 0, lineStyle: {color: '#ff0000', width: 1, type: 'solid'}}]}},
    {type: 'line', xAxisIndex: 5, yAxisIndex: 4, data: macdSignal, symbol: 'none', silent: true, z: 4,
      lineStyle: {color: '#0b7a3e', width: 2.5}},
    {type: 'bar', xAxisIndex: 6, yAxisIndex: 5, barWidth: 6.5, silent: true,
      data: volume.map((v, i) => [i, v]), itemStyle: {color: '#1a8cff'}}
  ]
};

const chart = echarts.init(document.getElementById('c'), null, {renderer: 'canvas'});
chart.setOption(option);
</script></body></html>
